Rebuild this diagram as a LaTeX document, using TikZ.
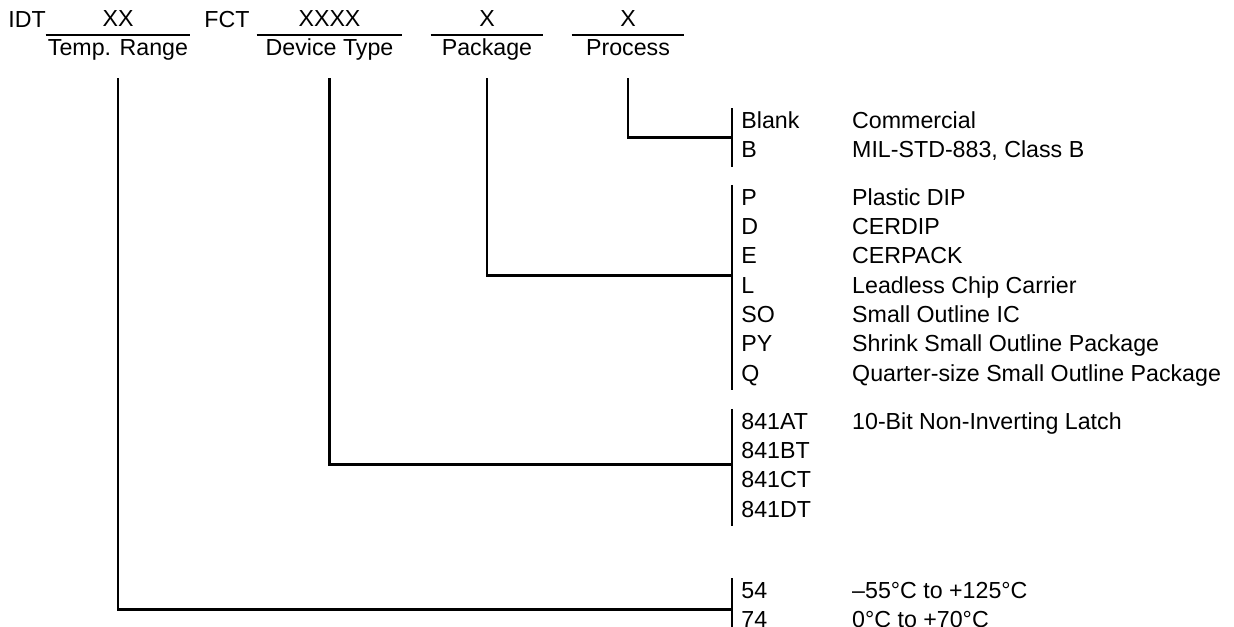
\documentclass[tikz,border=0pt]{standalone}
\usepackage{fontspec}
\setmainfont{Liberation Sans}
\usetikzlibrary{positioning}

\begin{document}
\begin{tikzpicture}[x = 0.5pt, y = -0.5pt]
  \tikzset{txt/.style = {font = \fontsize{11.6pt}{14.25pt}\selectfont, inner sep = 0pt}}
  \tikzset{field/.style = {txt, inner ysep = 2pt, text height = 8.3pt, text depth = 2.5pt}}
  \tikzset{row/.style = {txt, text height = 10pt, text depth = 4.25pt}}
  \tikzset{code/.style = {row, text width = 55pt, align = left}}
  \tikzset{bar/.style = {line width = 1.4pt}}

  \useasboundingbox (0,0) rectangle (1234,626);

  % ordering code fields
  \node[txt, anchor = base west] (IDT) at (8,27.4) {IDT};
  \node[txt, anchor = base west] (FCT) at (204,27.4) {FCT};
  \node[field, minimum width = 72pt, anchor = base] (Temp) at (118,56) {Temp. Range};
  \node[field, minimum width = 72.5pt, anchor = base] (Dev) at (329.5,56) {Device Type};
  \node[field, minimum width = 56pt, anchor = base] (Pkg) at (487,56) {Package};
  \node[field, minimum width = 56pt, anchor = base] (Proc) at (628,56) {Process};
  \node[txt, above = 4pt of Temp] (TempX) {XX};
  \node[txt, above = 4pt of Dev] (DevX) {XXXX};
  \node[txt, above = 4pt of Pkg] (PkgX) {X};
  \node[txt, above = 4pt of Proc] (ProcX) {X};
  \draw[bar] (Temp.north west) -- (Temp.north east);
  \draw[bar] (Dev.north west) -- (Dev.north east);
  \draw[bar] (Pkg.north west) -- (Pkg.north east);
  \draw[bar] (Proc.north west) -- (Proc.north east);

  % process
  \node[code, anchor = base west] (ProcBlank) at (741,128.6) {Blank};
  \node[code, below = 0pt of ProcBlank] (ProcB) {B};
  \node[row, right = 0pt of ProcBlank] {Commercial};
  \node[row, right = 0pt of ProcB] {MIL-STD-883, Class B};

  % package
  \node[code, below = 9pt of ProcB] (PkgP) {P};
  \node[code, below = 0pt of PkgP] (PkgD) {D};
  \node[code, below = 0pt of PkgD] (PkgE) {E};
  \node[code, below = 0pt of PkgE] (PkgL) {L};
  \node[code, below = 0pt of PkgL] (PkgSO) {SO};
  \node[code, below = 0pt of PkgSO] (PkgPY) {PY};
  \node[code, below = 0pt of PkgPY] (PkgQ) {Q};
  \node[row, right = 0pt of PkgP] {Plastic DIP};
  \node[row, right = 0pt of PkgD] {CERDIP};
  \node[row, right = 0pt of PkgE] {CERPACK};
  \node[row, right = 0pt of PkgL] {Leadless Chip Carrier};
  \node[row, right = 0pt of PkgSO] {Small Outline IC};
  \node[row, right = 0pt of PkgPY] {Shrink Small Outline Package};
  \node[row, right = 0pt of PkgQ] {Quarter-size Small Outline Package};

  % device type
  \node[code, below = 9.5pt of PkgQ] (DevA) {841AT};
  \node[code, below = 0pt of DevA] (DevB) {841BT};
  \node[code, below = 0pt of DevB] (DevC) {841CT};
  \node[code, below = 0pt of DevC] (DevD) {841DT};
  \node[row, right = 0pt of DevA] {10-Bit Non-Inverting Latch};

  % temperature range
  \node[code, below = 26pt of DevD] (Temp54) {54};
  \node[code, below = 0pt of Temp54] (Temp74) {74};
  \node[row, right = 0pt of Temp54] {–55°C to +125°C};
  \node[row, right = 0pt of Temp74] {0°C to +70°C};

  % brackets
  \draw[bar] ([xshift = -4.5pt]ProcBlank.north west) -- ([xshift = -4.5pt]ProcB.south west);
  \draw[bar] ([xshift = -4.5pt]PkgP.north west) -- ([xshift = -4.5pt]PkgQ.south west);
  \draw[bar] ([xshift = -4.5pt]DevA.north west) -- ([xshift = -4.5pt]DevD.south west);
  \draw[bar] ([xshift = -4.5pt]Temp54.north west) -- ([xshift = -4.5pt]Temp74.south west);

  % leaders
  \draw[bar] ([yshift = -6.5pt]Proc.south) |- ([xshift = -4.5pt]ProcB.north west);
  \draw[bar] ([yshift = -6.5pt]Pkg.south) |- ([xshift = -4.5pt, yshift = -1.5pt]PkgL.north west);
  \draw[bar] ([yshift = -6.5pt]Dev.south) |- ([xshift = -4.5pt, yshift = 1.5pt]DevC.north west);
  \draw[bar] ([yshift = -6.5pt]Temp.south) |- ([xshift = -4.5pt, yshift = -1pt]Temp74.north west);
\end{tikzpicture}
\end{document}
